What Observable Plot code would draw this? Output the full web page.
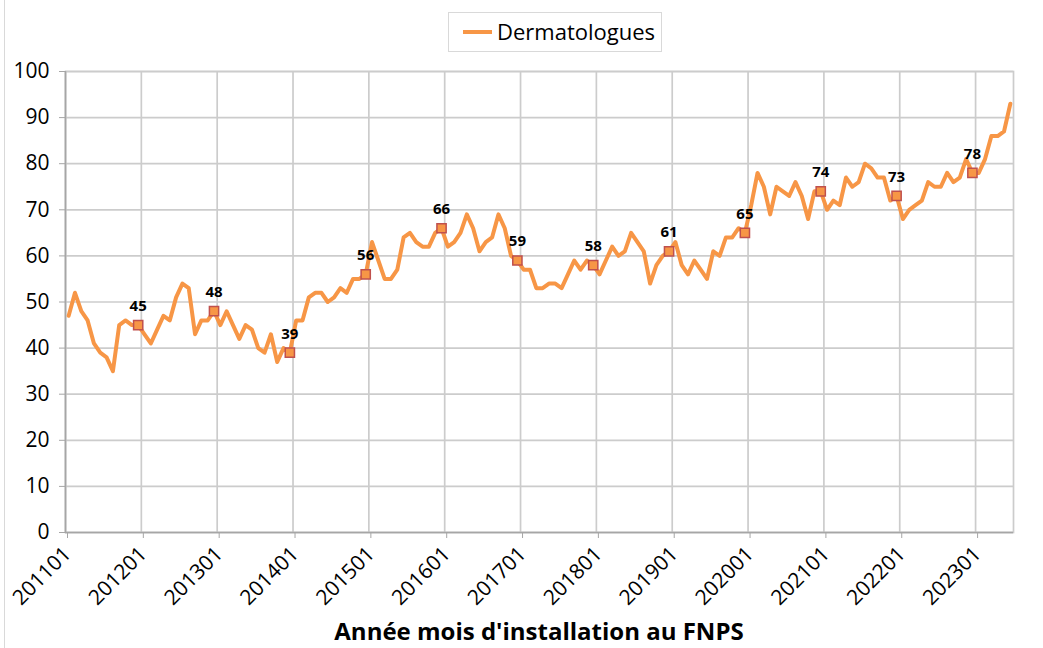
<!DOCTYPE html>
<html>
<head>
<meta charset="utf-8">
<script src="https://cdn.jsdelivr.net/npm/d3@7"></script>
<script src="https://cdn.jsdelivr.net/npm/@observablehq/plot@0.6"></script>
<style>
  body { margin: 0; background: #fff; font-family: "Open Sans", sans-serif; }
  #wrap { position: relative; width: 1043px; height: 648px; overflow: hidden; background: #fff; }
  #border { position: absolute; left: 4px; top: 0; bottom: 0; border-left: 1px solid #d9d9d9; }
  #legend { position: absolute; left: 448px; top: 12px; width: 214px; height: 40px; box-sizing: border-box;
            border: 1px solid #d9d9d9; background: #fff; z-index: 2; }
  #legend .sw { position: absolute; left: 14px; top: 17px; width: 29px; height: 4px; background: #F79646; }
  #legend .lb { position: absolute; left: 48px; top: 4px; font-size: 22px; line-height: 28px; color: #000; }
  #chart { position: absolute; left: 0; top: 40px; z-index: 1; }
  #title { position: absolute; left: 0; width: 1078px; top: 615px; text-align: center; font-weight: bold;
           font-size: 24px; line-height: 32px; color: #000; z-index: 2; }
</style>
</head>
<body>
<div id="wrap">
  <div id="border"></div>
  <div id="chart"></div>
  <div id="legend"><div class="sw"></div><div class="lb">Dermatologues</div></div>
  <div id="title">Année mois d'installation au FNPS</div>
</div>
<script>
// Monthly counts, 201101 .. 202306
const seriesName = "Dermatologues";
const startYear = 2011;
const values = [
  47, 52, 48, 46, 41, 39, 38, 35, 45, 46, 45, 45,   // 2011
  43, 41, 44, 47, 46, 51, 54, 53, 43, 46, 46, 48,   // 2012
  45, 48, 45, 42, 45, 44, 40, 39, 43, 37, 40, 39,   // 2013
  46, 46, 51, 52, 52, 50, 51, 53, 52, 55, 55, 56,   // 2014
  63, 59, 55, 55, 57, 64, 65, 63, 62, 62, 65, 66,   // 2015
  62, 63, 65, 69, 66, 61, 63, 64, 69, 66, 60, 59,   // 2016
  57, 57, 53, 53, 54, 54, 53, 56, 59, 57, 59, 58,   // 2017
  56, 59, 62, 60, 61, 65, 63, 61, 54, 58, 60, 61,   // 2018
  63, 58, 56, 59, 57, 55, 61, 60, 64, 64, 66, 65,   // 2019
  71, 78, 75, 69, 75, 74, 73, 76, 73, 68, 74, 74,   // 2020
  70, 72, 71, 77, 75, 76, 80, 79, 77, 77, 72, 73,   // 2021
  68, 70, 71, 72, 76, 75, 75, 78, 76, 77, 81, 78,   // 2022
  78, 81, 86, 86, 87, 93                            // 2023
];
// Labelled points (December of each year)
const labelledMonths = ["201112","201212","201312","201412","201512","201612",
                        "201712","201812","201912","202012","202112","202212"];
const xTickLabels = ["201101","201201","201301","201401","201501","201601","201701",
                     "201801","201901","202001","202101","202201","202301"];
const yTicks = [0, 10, 20, 30, 40, 50, 60, 70, 80, 90, 100];

const monthCode = i => String(startYear + Math.floor(i / 12)) + String(i % 12 + 1).padStart(2, "0");
const rows = values.map((v, i) => ({ idx: i, code: monthCode(i), v }));
const labelled = rows.filter(d => labelledMonths.includes(d.code));
const xTickPos = xTickLabels.map(c => rows.findIndex(d => d.code === c));
const n = values.length;

const chart = Plot.plot({
  width: 1043,
  height: 572,
  marginLeft: 65,
  marginRight: 30,
  marginTop: 31,
  marginBottom: 80,
  style: { fontFamily: "Open Sans, sans-serif", fontSize: "21px", color: "#000", background: "transparent" },
  x: { type: "linear", domain: [0, n] },
  y: { domain: [0, 100] },
  marks: [
    Plot.gridY(yTicks, { stroke: "#cccccc", strokeOpacity: 1, strokeWidth: 1.7 }),
    Plot.gridX(xTickPos, { stroke: "#cccccc", strokeOpacity: 1, strokeWidth: 1.7 }),
    Plot.frame({ stroke: "#cccccc", strokeWidth: 1.7 }),
    Plot.ruleX([0], { stroke: "#a6a6a6", strokeWidth: 1.5 }),
    Plot.ruleY([0], { stroke: "#a6a6a6", strokeWidth: 1.5 }),
    Plot.axisY({ ticks: yTicks, tickSize: 6, tickPadding: 10, stroke: "#a6a6a6", label: null, fontSize: 21 }),
    Plot.axisX({ ticks: xTickPos, tickFormat: i => monthCode(i), tickRotate: -45, tickSize: 6,
                 tickPadding: 12, stroke: "#a6a6a6", label: null, fontSize: 21, dx: 2 }),
    Plot.line(rows, { x: d => d.idx + 0.5, y: "v", stroke: "#F79646", strokeWidth: 4,
                      strokeLinejoin: "round", strokeLinecap: "round" }),
    Plot.dot(labelled, { x: d => d.idx + 0.5, y: "v", symbol: "square", r: 5.2,
                         fill: "#F79646", stroke: "#C0504D", strokeWidth: 1.5 }),
    Plot.text(labelled, { x: d => d.idx + 0.5, y: "v", text: d => String(d.v), dy: -19,
                          fontWeight: "bold", fontSize: 15, fill: "#000" })
  ]
});
document.getElementById("chart").appendChild(chart);
</script>
</body>
</html>
